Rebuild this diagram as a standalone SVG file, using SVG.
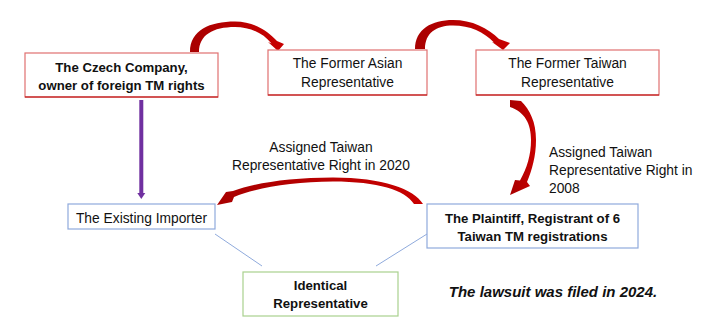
<svg xmlns="http://www.w3.org/2000/svg" width="710" height="335" viewBox="0 0 710 335">
<style>
  text { font-family: "Liberation Sans", Arial, sans-serif; fill: #111; text-anchor: middle; }
  .r { font-size: 13.8px; }
  .b { font-size: 13.2px; font-weight: bold; }
  .bi { font-size: 15px; font-weight: bold; font-style: italic; }
  .lbl { font-size: 13.8px; }
  .redbox { fill: #fff; stroke: #e07070; stroke-width: 1.2; }
  .redbot { stroke: #b80000; stroke-width: 1.2; }
  .bluebox { fill: #fff; stroke: #8faadc; stroke-width: 1.2; }
  .greenbox { fill: #fff; stroke: #a9d18e; stroke-width: 1.2; }
  .thin { stroke: #8faadc; stroke-width: 1; fill: none; }
  .curve { fill: url(#redgrad); }
</style>
<defs>
  <linearGradient id="redgrad" x1="0" y1="0" x2="1" y2="0">
    <stop offset="0" stop-color="#a80000"/>
    <stop offset="1" stop-color="#c80000"/>
  </linearGradient>
</defs>

<g id="connectors">
  <path class="curve" d="M190,52 C190,30 210,21.5 235,21.5 C254,21.5 268,31 277,41 L284,44 L278,51 L268,42 L271.5,43.5 C263,33 250,27 235,27 C213,27 199,35 199,52 Z"/>
  <path class="curve" d="M415,49 C415,29 432,20 453,20 C472,20 488,28 499,39 L510,43 L503,50 L492,42 L494,42.5 C484,32 470,25.5 453,25.5 C436,25.5 425,33 425,49 Z"/>
  <path class="curve" d="M510,100 L521,101 C530,110 536,122 536,140 C536,156 532,170 527,182 L530,186 L510,195 L515,180 L520,180.5 C527,168 531,155 531,140 C531,124 525,112 510,107 Z"/>
  <path class="curve" d="M423,204 C414,189 383,177.5 333,177.5 C290,177.5 255,183 233,191 L226,192 L217,205 L232,202 L234,197 C256,188 292,181.5 333,181.5 C378,181.5 405,190 414,204 Z"/>
  <line x1="141.3" y1="100" x2="141.3" y2="194" stroke="#7030a0" stroke-width="4"/>
  <polygon points="137.3,193 145.3,193 141.3,199" fill="#7030a0"/>
  <line class="thin" x1="215" y1="234" x2="262" y2="266"/>
  <line class="thin" x1="427" y1="234" x2="376" y2="266"/>
  <text class="lbl" x="321" y="152">Assigned Taiwan</text>
  <text class="lbl" x="321" y="170">Representative Right in 2020</text>
  <text class="lbl" x="549" y="157" style="text-anchor:start">Assigned Taiwan</text>
  <text class="lbl" x="549" y="175" style="text-anchor:start">Representative Right in</text>
  <text class="lbl" x="549" y="193" style="text-anchor:start">2008</text>
</g>

<g id="czech">
  <rect class="redbox" x="25" y="53" width="193" height="44"/>
  <line class="redbot" x1="25" y1="97" x2="218" y2="97"/>
  <text class="b" x="121.5" y="72">The Czech Company,</text>
  <text class="b" x="121.5" y="90">owner of foreign TM rights</text>
</g>

<g id="asian">
  <rect class="redbox" x="268" y="50" width="159" height="45"/>
  <line class="redbot" x1="268" y1="95" x2="427" y2="95"/>
  <text class="r" x="347.5" y="68">The Former Asian</text>
  <text class="r" x="347.5" y="87">Representative</text>
</g>

<g id="taiwan">
  <rect class="redbox" x="476" y="50" width="183" height="45"/>
  <line class="redbot" x1="476" y1="95" x2="659" y2="95"/>
  <text class="r" x="567.5" y="68">The Former Taiwan</text>
  <text class="r" x="567.5" y="87">Representative</text>
</g>

<g id="importer">
  <rect class="bluebox" x="68" y="204" width="147" height="25"/>
  <text class="r" x="141.5" y="222.5">The Existing Importer</text>
</g>

<g id="plaintiff">
  <rect class="bluebox" x="427" y="204" width="211" height="44"/>
  <text class="b" x="532.5" y="223">The Plaintiff, Registrant of 6</text>
  <text class="b" x="532.5" y="241">Taiwan TM registrations</text>
</g>

<g id="identical">
  <rect class="greenbox" x="243" y="272" width="155" height="44"/>
  <text class="b" x="320.5" y="290">Identical</text>
  <text class="b" x="320.5" y="308">Representative</text>
</g>

<text class="bi" x="553" y="297">The lawsuit was filed in 2024.</text>
</svg>
